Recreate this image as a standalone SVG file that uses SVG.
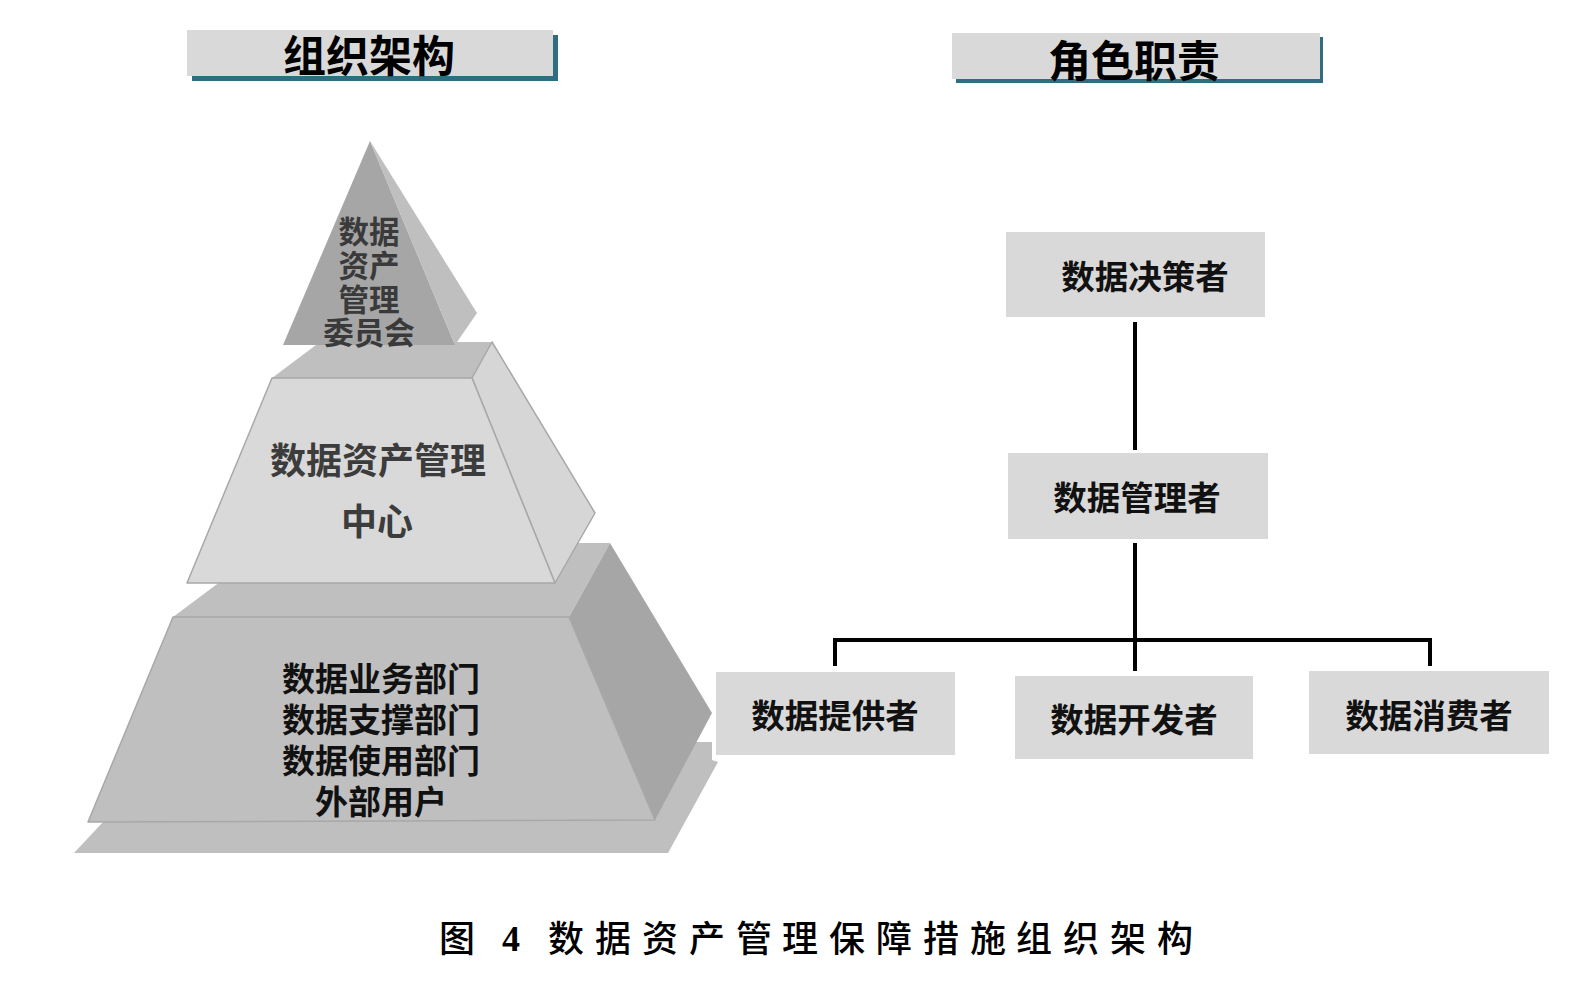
<svg xmlns="http://www.w3.org/2000/svg" width="1594" height="984" viewBox="0 0 1594 984">
  <style>
    .cjk { font-family: "Noto Sans CJK SC", "Noto Sans CJK JP", sans-serif; font-weight: 700; }
    .head { font-size: 43px; fill: #000; text-anchor: middle; }
    .role { font-size: 33.5px; fill: #111; text-anchor: middle; }
    .box { fill: #d9d9d9; }
    .shadow { fill: #2f6e80; }
    .link { stroke: #000; stroke-width: 4; fill: none; stroke-linecap: butt; }
    .dark { fill: #a6a6a6; }
    .mid { fill: #bfbfbf; }
    .light { fill: #d9d9d9; }
    .edge { stroke: #a8a8a8; stroke-width: 1.5; stroke-linejoin: round; }
    .cap { font-family: "Noto Sans CJK SC", "Noto Sans CJK JP", serif; font-size: 36px; font-weight: 500; fill: #000; }
  </style>

  <!-- section headers -->
  <g id="header-org">
    <rect class="shadow" x="192" y="35" width="366" height="46"/>
    <rect class="box" x="187" y="30" width="366" height="46"/>
    <text class="cjk head" x="369" y="72">组织架构</text>
  </g>
  <g id="header-roles">
    <rect class="shadow" x="956" y="37" width="367" height="46"/>
    <rect class="box" x="952" y="33" width="368" height="46"/>
    <text class="cjk head" x="1134" y="77">角色职责</text>
  </g>

  <!-- pyramid: base slab -->
  <g id="pyramid-base">
    <polygon class="mid" points="178,742 712,742 712,760 718,762 668,853 74,853"/>
  </g>

  <!-- pyramid: bottom tier -->
  <g id="tier-departments">
    <polygon class="mid" points="173,617 272,543 610,543 569,617"/>
    <polygon class="dark" points="569,617 610,543 712,713 655,820"/>
    <polygon class="mid edge" points="173,617 569,617 655,820 88,822"/>
    <g class="cjk" font-size="33" fill="#111" text-anchor="middle">
      <text x="381" y="691">数据业务部门</text>
      <text x="381" y="732">数据支撑部门</text>
      <text x="381" y="773">数据使用部门</text>
      <text x="381" y="814">外部用户</text>
    </g>
  </g>

  <!-- pyramid: middle tier -->
  <g id="tier-center">
    <polygon class="mid" points="272,378 320,342 492,342 472,378"/>
    <polygon class="edge" fill="#d6d6d6" points="472,378 492,342 595,513 555,583"/>
    <polygon class="light edge" points="272,378 472,378 555,583 187,583"/>
    <g class="cjk" font-size="36" fill="#3c3c3c" text-anchor="middle">
      <text x="378" y="474">数据资产管理</text>
      <text x="377" y="535">中心</text>
    </g>
  </g>

  <!-- pyramid: apex -->
  <g id="tier-committee">
    <polygon class="dark" points="370,141 455,345 283,345"/>
    <polygon class="mid" points="370,141 477,313 455,345"/>
    <g class="cjk" font-size="30.5" fill="#3a3a3a" text-anchor="middle">
      <text x="369" y="243">数据</text>
      <text x="369" y="277">资产</text>
      <text x="369" y="311">管理</text>
      <text x="369" y="344">委员会</text>
    </g>
  </g>

  <!-- role hierarchy connectors -->
  <g id="connectors">
    <line class="link" x1="1135" y1="322" x2="1135" y2="450"/>
    <line class="link" x1="1135" y1="543" x2="1135" y2="671"/>
    <polyline class="link" points="835,666 835,640 1430,640 1430,666"/>
  </g>

  <!-- role nodes -->
  <g id="role-decision">
    <rect class="box" x="1006" y="232" width="259" height="85"/>
    <text class="cjk role" x="1145" y="289">数据决策者</text>
  </g>
  <g id="role-manager">
    <rect class="box" x="1008" y="453" width="260" height="86"/>
    <text class="cjk role" x="1137" y="510">数据管理者</text>
  </g>
  <g id="role-provider">
    <rect class="box" x="716" y="672" width="239" height="83"/>
    <text class="cjk role" x="835" y="728">数据提供者</text>
  </g>
  <g id="role-developer">
    <rect class="box" x="1015" y="676" width="238" height="83"/>
    <text class="cjk role" x="1134" y="732">数据开发者</text>
  </g>
  <g id="role-consumer">
    <rect class="box" x="1309" y="671" width="240" height="83"/>
    <text class="cjk role" x="1429" y="728">数据消费者</text>
  </g>

  <!-- figure caption -->
  <g id="caption">
    <text class="cap" x="439" y="952">图</text>
    <text x="502" y="951" font-family="Liberation Serif, serif" font-weight="700" font-size="36" fill="#000">4</text>
    <text class="cap" y="952" x="548 595 642 689 736 782 829 876 923 970 1016 1063 1110 1157">数据资产管理保障措施组织架构</text>
  </g>
</svg>
